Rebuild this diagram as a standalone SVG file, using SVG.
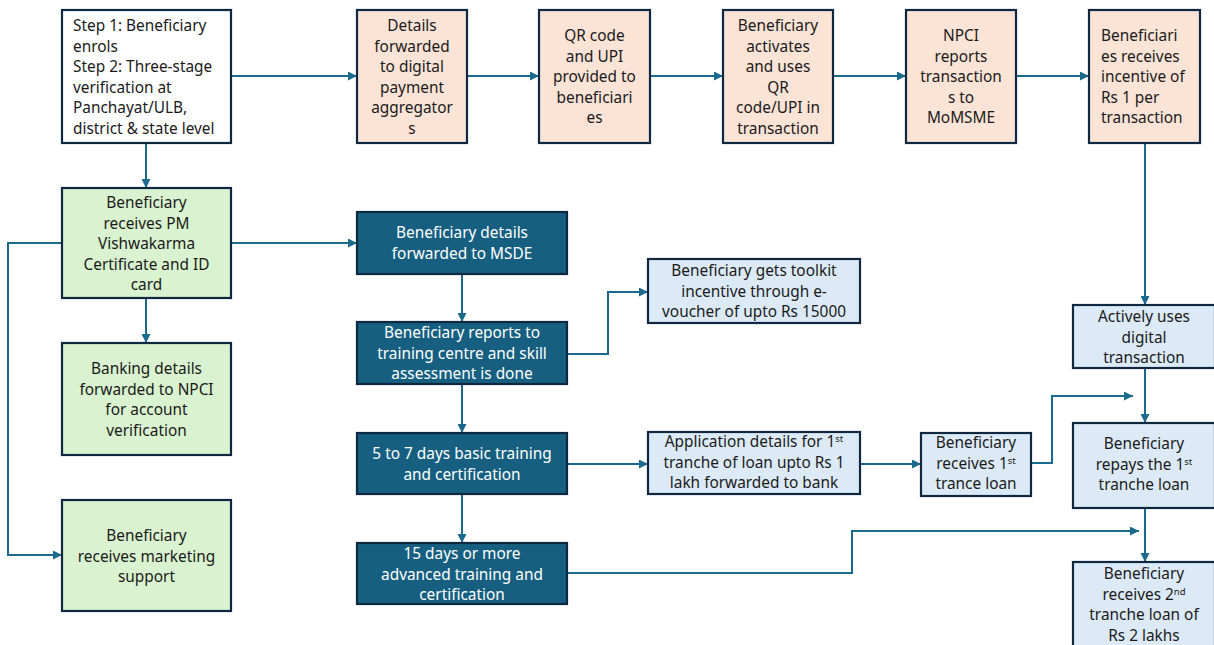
<svg xmlns="http://www.w3.org/2000/svg" width="1214" height="645" viewBox="0 0 1214 645">
<defs>
<marker id="ah" viewBox="0 0 10 10" refX="10" refY="5" markerWidth="9" markerHeight="9" markerUnits="userSpaceOnUse" orient="auto">
<path d="M0,0 L10,5 L0,10 Z" fill="#1A6A8E"/>
</marker>
<style>
.b{stroke:#0E2841;stroke-width:2.2}
.w{fill:#FFFFFF}
.p{fill:#FBE3D6}
.g{fill:#D9F2D0}
.l{fill:#DCEAF7}
.d{fill:#175F80}
text{font-family:"Noto Sans","Liberation Sans",sans-serif;font-size:15.4px;fill:#1a1a1a}
.c{text-anchor:middle}
.t{fill:#FFFFFF}
.s{font-size:9.5px}
.e{fill:none;stroke:#1A6A8E;stroke-width:2;marker-end:url(#ah)}
</style>
</defs>
<rect width="1214" height="645" fill="#FFFFFF"/>

<g id="connectors">
<line class="e" x1="231" y1="76" x2="357" y2="76"/>
<line class="e" x1="467" y1="76" x2="539" y2="76"/>
<line class="e" x1="650" y1="76" x2="723" y2="76"/>
<line class="e" x1="833" y1="76" x2="906" y2="76"/>
<line class="e" x1="1016" y1="76" x2="1089" y2="76"/>
<line class="e" x1="146" y1="143" x2="146" y2="188"/>
<line class="e" x1="146" y1="298" x2="146" y2="343"/>
<polyline class="e" points="62,243 8,243 8,555 62,555"/>
<line class="e" x1="231" y1="243" x2="357" y2="243"/>
<line class="e" x1="462" y1="274" x2="462" y2="322"/>
<line class="e" x1="462" y1="384" x2="462" y2="433"/>
<line class="e" x1="462" y1="494" x2="462" y2="543"/>
<polyline class="e" points="567,354 608,354 608,292 648,292"/>
<line class="e" x1="567" y1="464" x2="648" y2="464"/>
<line class="e" x1="860" y1="464" x2="921" y2="464"/>
<polyline class="e" points="1031,463 1052,463 1052,396 1133,396"/>
<line class="e" x1="1145" y1="143" x2="1145" y2="305"/>
<line class="e" x1="1145" y1="368" x2="1145" y2="423"/>
<polyline class="e" points="567,573 852,573 852,531 1139,531"/>
<line class="e" x1="1145" y1="508" x2="1145" y2="562"/>
</g>

<g id="n1">
<rect class="b w" x="62" y="10" width="169" height="133"/>
<text x="73" y="31">Step 1: Beneficiary</text>
<text x="73" y="51.5">enrols</text>
<text x="73" y="72">Step 2: Three-stage</text>
<text x="73" y="92.5">verification at</text>
<text x="73" y="113">Panchayat/ULB,</text>
<text x="73" y="133.5">district &amp; state level</text>
</g>

<g id="n2">
<rect class="b p" x="357" y="10" width="110" height="133"/>
<text class="c" x="412" y="31">Details</text>
<text class="c" x="412" y="51.5">forwarded</text>
<text class="c" x="412" y="72">to digital</text>
<text class="c" x="412" y="92.5">payment</text>
<text class="c" x="412" y="113">aggregator</text>
<text class="c" x="412" y="133.5">s</text>
</g>

<g id="n3">
<rect class="b p" x="539" y="10" width="111" height="133"/>
<text class="c" x="594.5" y="41">QR code</text>
<text class="c" x="594.5" y="61.5">and UPI</text>
<text class="c" x="594.5" y="82">provided to</text>
<text class="c" x="594.5" y="102.5">beneficiari</text>
<text class="c" x="594.5" y="123">es</text>
</g>

<g id="n4">
<rect class="b p" x="723" y="10" width="110" height="133"/>
<text class="c" x="778" y="31">Beneficiary</text>
<text class="c" x="778" y="51.5">activates</text>
<text class="c" x="778" y="72">and uses</text>
<text class="c" x="778" y="92.5">QR</text>
<text class="c" x="778" y="113">code/UPI in</text>
<text class="c" x="778" y="133.5">transaction</text>
</g>

<g id="n5">
<rect class="b p" x="906" y="10" width="110" height="133"/>
<text class="c" x="961" y="41">NPCI</text>
<text class="c" x="961" y="61.5">reports</text>
<text class="c" x="961" y="82">transaction</text>
<text class="c" x="961" y="102.5">s to</text>
<text class="c" x="961" y="123">MoMSME</text>
</g>

<g id="n6">
<rect class="b p" x="1089" y="10" width="111" height="133"/>
<text x="1101" y="41">Beneficiari</text>
<text x="1101" y="61.5">es receives</text>
<text x="1101" y="82">incentive of</text>
<text x="1101" y="102.5">Rs 1 per</text>
<text x="1101" y="123">transaction</text>
</g>

<g id="g1">
<rect class="b g" x="62" y="188" width="169" height="110"/>
<text class="c" x="146.5" y="208">Beneficiary</text>
<text class="c" x="146.5" y="228.5">receives PM</text>
<text class="c" x="146.5" y="249">Vishwakarma</text>
<text class="c" x="146.5" y="269.5">Certificate and ID</text>
<text class="c" x="146.5" y="290">card</text>
</g>

<g id="g2">
<rect class="b g" x="62" y="343" width="169" height="112"/>
<text class="c" x="146.5" y="374">Banking details</text>
<text class="c" x="146.5" y="394.5">forwarded to NPCI</text>
<text class="c" x="146.5" y="415">for account</text>
<text class="c" x="146.5" y="435.5">verification</text>
</g>

<g id="g3">
<rect class="b g" x="62" y="500" width="169" height="111"/>
<text class="c" x="146.5" y="541">Beneficiary</text>
<text class="c" x="146.5" y="561.5">receives marketing</text>
<text class="c" x="146.5" y="582">support</text>
</g>

<g id="d1">
<rect class="b d" x="357" y="212" width="210" height="62"/>
<text class="c t" x="462" y="238">Beneficiary details</text>
<text class="c t" x="462" y="258.5">forwarded to MSDE</text>
</g>

<g id="d2">
<rect class="b d" x="357" y="322" width="210" height="62"/>
<text class="c t" x="462" y="338">Beneficiary reports to</text>
<text class="c t" x="462" y="358.5">training centre and skill</text>
<text class="c t" x="462" y="379">assessment is done</text>
</g>

<g id="d3">
<rect class="b d" x="357" y="433" width="210" height="61"/>
<text class="c t" x="462" y="459">5 to 7 days basic training</text>
<text class="c t" x="462" y="479.5">and certification</text>
</g>

<g id="d4">
<rect class="b d" x="357" y="543" width="210" height="61"/>
<text class="c t" x="462" y="559">15 days or more</text>
<text class="c t" x="462" y="579.5">advanced training and</text>
<text class="c t" x="462" y="600">certification</text>
</g>

<g id="l1">
<rect class="b l" x="648" y="259" width="212" height="64"/>
<text class="c" x="754" y="276">Beneficiary gets toolkit</text>
<text class="c" x="754" y="296.5">incentive through e-</text>
<text class="c" x="754" y="317">voucher of upto Rs 15000</text>
</g>

<g id="l2">
<rect class="b l" x="648" y="432" width="212" height="62"/>
<text class="c" x="754" y="447">Application details for 1<tspan class="s" dy="-5">st</tspan></text>
<text class="c" x="754" y="467.5">tranche of loan upto Rs 1</text>
<text class="c" x="754" y="488">lakh forwarded to bank</text>
</g>

<g id="l3">
<rect class="b l" x="921" y="433" width="110" height="63"/>
<text class="c" x="976" y="448">Beneficiary</text>
<text class="c" x="976" y="468.5">receives 1<tspan class="s" dy="-5">st</tspan></text>
<text class="c" x="976" y="489">trance loan</text>
</g>

<g id="l4">
<rect class="b l" x="1073" y="305" width="142" height="63"/>
<text class="c" x="1144" y="322">Actively uses</text>
<text class="c" x="1144" y="342.5">digital</text>
<text class="c" x="1144" y="363">transaction</text>
</g>

<g id="l5">
<rect class="b l" x="1073" y="423" width="142" height="85"/>
<text class="c" x="1144" y="449">Beneficiary</text>
<text class="c" x="1144" y="469.5">repays the 1<tspan class="s" dy="-5">st</tspan></text>
<text class="c" x="1144" y="490">tranche loan</text>
</g>

<g id="l6">
<rect class="b l" x="1073" y="562" width="142" height="90"/>
<text class="c" x="1144" y="579">Beneficiary</text>
<text class="c" x="1144" y="599.5">receives 2<tspan class="s" dy="-5">nd</tspan></text>
<text class="c" x="1144" y="620">tranche loan of</text>
<text class="c" x="1144" y="640.5">Rs 2 lakhs</text>
</g>
</svg>
